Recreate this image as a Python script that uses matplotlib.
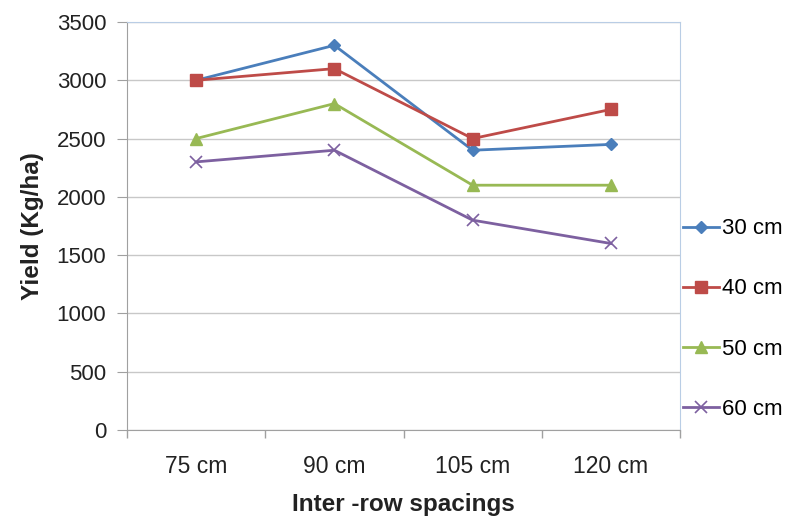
import matplotlib.pyplot as plt
import numpy as np

plt.rcParams['font.family'] = ['Liberation Sans', 'DejaVu Sans']

categories = ['75 cm', '90 cm', '105 cm', '120 cm']
series_names = ['30 cm', '40 cm', '50 cm', '60 cm']
yield_30 = [3000, 3300, 2400, 2450]
yield_40 = [3000, 3100, 2500, 2750]
yield_50 = [2500, 2800, 2100, 2100]
yield_60 = [2300, 2400, 1800, 1600]

colors = ['#4A7EBB', '#BE4B48', '#98B954', '#7D60A0']
markers = ['D', 's', '^', 'x']
msizes = [6, 8, 8, 8]

fig = plt.figure(figsize=(7.86, 5.2), dpi=100)
ax = fig.add_axes([127 / 786, 90 / 520, 553 / 786, 408 / 520])

x = np.arange(len(categories))
for vals, name, c, m, ms in zip([yield_30, yield_40, yield_50, yield_60],
                                series_names, colors, markers, msizes):
    ax.plot(x, vals, color=c, marker=m, markersize=ms, linewidth=2,
            markeredgewidth=1 if m != 'x' else 1.2, label=name, zorder=3)

ax.set_xlim(-0.5, 3.5)
ax.set_ylim(0, 3500)
ax.set_yticks(np.arange(0, 3501, 500))
ax.set_xticks(x)
ax.set_xticklabels(categories)
ax.set_xticks(np.arange(-0.5, 3.6, 1), minor=True)
ax.tick_params(axis='x', which='major', length=0, labelsize=16.5, pad=18, colors='#222222')
ax.tick_params(axis='x', which='minor', length=6, color='#A0A0A0', width=1)
ax.tick_params(axis='y', length=7, labelsize=16, pad=8, colors='#222222')
ax.tick_params(axis='y', color='#A0A0A0')

ax.grid(axis='y', color='#C8C8C8', linewidth=1)
ax.set_axisbelow(True)
for s in ['left', 'bottom']:
    ax.spines[s].set_color('#A0A0A0')
for s in ['top', 'right']:
    ax.spines[s].set_color('#B9CDE5')

ax.set_ylabel('Yield (Kg/ha)', fontsize=17.5, fontweight='bold', labelpad=9, color='#222222')
ax.set_xlabel('Inter -row spacings', fontsize=17.5, fontweight='bold', labelpad=11, color='#222222')

ax.legend(loc='center left', bbox_to_anchor=(1.005, 0.272), frameon=False, fontsize=16,
          labelspacing=1.76, handlelength=1.63, handletextpad=0.12, borderaxespad=0,
          borderpad=0)

fig.savefig('out.png', dpi=100)
